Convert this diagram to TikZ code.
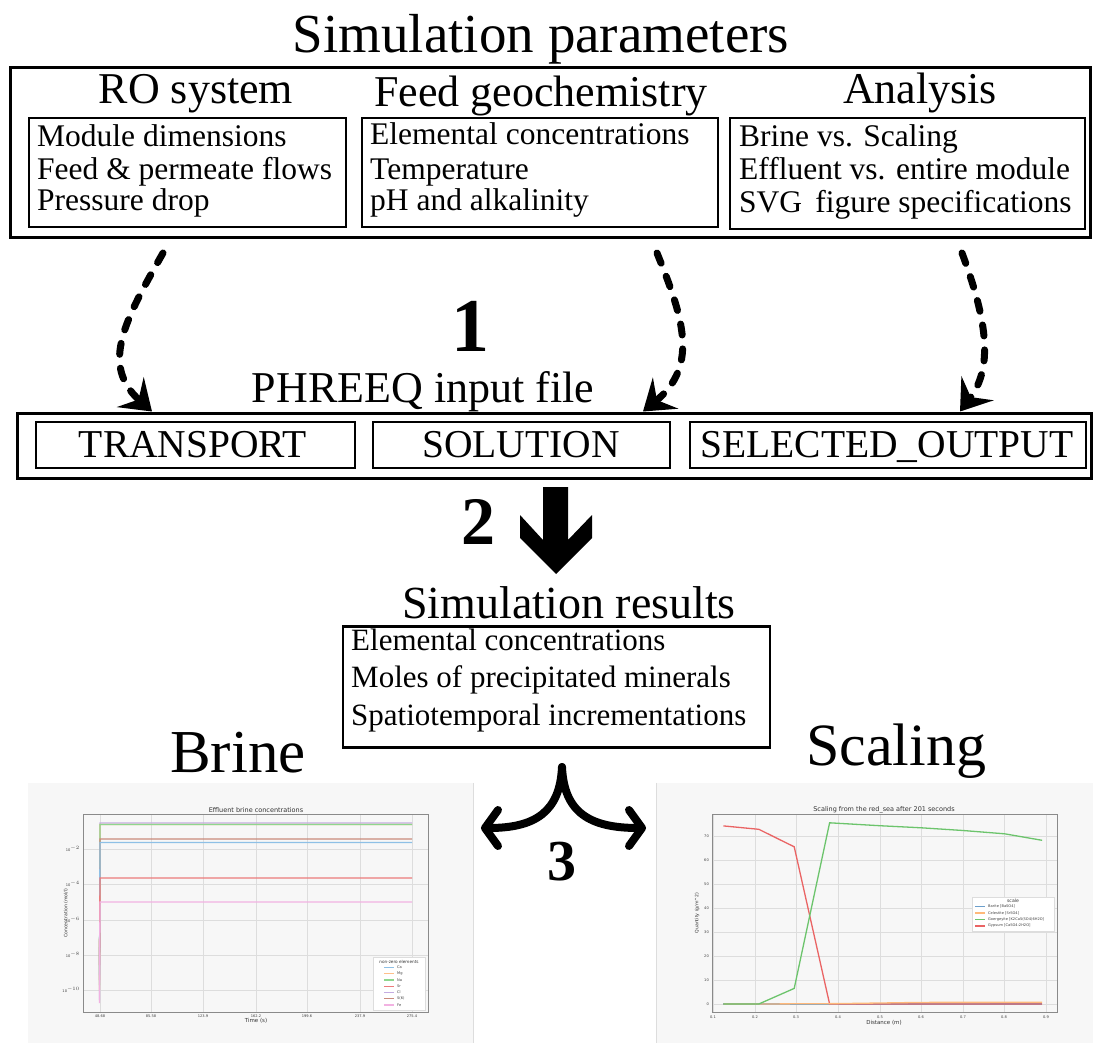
\documentclass[tikz,border=0pt]{standalone}
\usepackage{fontspec}
\setmainfont{Liberation Serif}
\newfontfamily\plotfont{DejaVu Sans}
\usetikzlibrary{arrows.meta}
\newcommand\fsz[1]{\fontsize{#1}{#1}\selectfont}
\definecolor{pbg}{HTML}{F7F7F7}
\definecolor{gridc}{HTML}{DDDDDD}
\definecolor{frc}{HTML}{8A8A8A}
\definecolor{caL}{HTML}{8EC0E6}
\definecolor{mgL}{HTML}{FFC08A}
\definecolor{naL}{HTML}{8ED68E}
\definecolor{srL}{HTML}{EC7B7B}
\definecolor{clL}{HTML}{C4ACE2}
\definecolor{sL}{HTML}{C98A7C}
\definecolor{feL}{HTML}{F2B2E2}
\definecolor{brR}{HTML}{6C9FCC}
\definecolor{ceR}{HTML}{FFB97A}
\definecolor{goR}{HTML}{6CC46C}
\definecolor{gyR}{HTML}{EA6464}
\begin{document}
\begin{tikzpicture}[x=1pt,y=-1pt,
  txt/.style={inner sep=0pt,anchor=base},
  ltxt/.style={inner sep=0pt,anchor=base west},
  box/.style={draw,rectangle,inner sep=0pt,line width=2pt},
  outerbox/.style={draw,rectangle,inner sep=0pt,line width=3pt},
  dasharrow/.style={line width=7pt,line cap=round,dash pattern=on 11pt off 14pt,
    -{Stealth[length=29pt,width=40pt,inset=11pt]}},
  curl/.style={line width=8pt,line cap=round,
    -{Straight Barb[length=13pt,width=36pt,round]}},
  pbgstyle/.style={fill=pbg,inner sep=0pt,draw=none},
  grid/.style={gridc,line width=0.8pt},
  frame/.style={draw=frc,line width=0.7pt,inner sep=0pt},
  tick/.style={inner sep=0pt,font=\plotfont\fsz{3.6},text=black!75},
  plotline/.style={line width=1.3pt},
  leg/.style={draw=gridc,fill=white,inner sep=0pt,line width=0.5pt},
  legtxt/.style={inner sep=0pt,anchor=west,font=\plotfont\fsz{3.6},text=black!75}
]
\useasboundingbox (0,0) rectangle (1093,1043);

% ---------- Simulation parameters ----------
\node[txt,font=\fsz{55}] (title) at (541,53) {Simulation parameters};
\node[outerbox,minimum width=1080pt,minimum height=170pt] (params) at (550,153) {};
\node[txt,font=\fsz{44}] (roh) at (196,104) {RO system};
\node[txt,font=\fsz{44}] (feh) at (541,107) {Feed geochemistry};
\node[txt,font=\fsz{44}] (anh) at (920,104) {Analysis};

\node[box,minimum width=317pt,minimum height=109pt] (ro) at (187,173) {};
\node[box,minimum width=356pt,minimum height=109pt] (fe) at (540,173) {};
\node[box,minimum width=355pt,minimum height=111pt] (an) at (907.5,174) {};

\node[ltxt,font=\fsz{31.5}] (ro1) at (37,147) {Module dimensions};
\node[ltxt,font=\fsz{31.5}] (ro2) at (37,180) {Feed \& permeate flows};
\node[ltxt,font=\fsz{31.5}] (ro3) at (37,211) {Pressure drop};
\node[ltxt,font=\fsz{31.5}] (fe1) at (370,145) {Elemental concentrations};
\node[ltxt,font=\fsz{31.5}] (fe2) at (370,180) {Temperature};
\node[ltxt,font=\fsz{31.5}] (fe3) at (370,211) {pH and alkalinity};
\node[ltxt,font=\fsz{31.5}] (an1) at (739,147) {Brine vs. Scaling};
\node[ltxt,font=\fsz{31.5}] (an2) at (739,180) {Effluent vs. entire module};
\node[ltxt,font=\fsz{31.5}] (an3) at (739,213) {SVG\, figure specifications};

% ---------- step 1 ----------
\node[txt,font=\bfseries\fsz{76}] (one) at (470,351) {1};
\node[txt,font=\fsz{44}] (phl) at (423,402) {PHREEQ input file};

\node[outerbox,minimum width=1074pt,minimum height=65pt] (input) at (554,445.5) {};
\node[box,minimum width=319pt,minimum height=46pt] (tr) at (195.5,445) {};
\node[box,minimum width=297pt,minimum height=46pt] (so) at (521.5,445) {};
\node[box,minimum width=396pt,minimum height=46pt] (se) at (888,445) {};
\node[txt,font=\fsz{39.5}] (trt) at (193,457) {TRANSPORT};
\node[txt,font=\fsz{39.5}] (sot) at (521,457) {SOLUTION};
\node[txt,font=\fsz{39.5}] (set) at (887,457) {SELECTED\_OUTPUT};

\coordinate (s1) at (163,253);
\coordinate (s2) at (657,253);
\coordinate (s3) at (962,253);
\coordinate (e1) at (input.north -| 152,0);
\coordinate (e2) at (input.north -| 643,0);
\coordinate (e3) at (input.north -| 960,0);
\draw[dasharrow] (s1) .. controls (125,320) and (100,365) .. (e1);
\draw[dasharrow] (s2) .. controls (682,315) and (700,365) .. (e2);
\draw[dasharrow] (s3) .. controls (985,315) and (995,365) .. (e3);

% ---------- step 2 ----------
\node[txt,font=\bfseries\fsz{68}] (two) at (478,544) {2};
\fill (543,487) -- (568,487) -- (568,540) -- (592,515) -- (592,538) -- (556,574)
  -- (520,538) -- (520,515) -- (543,540) -- cycle;
\coordinate (arr2) at (556,574);

\node[txt,font=\fsz{46}] (resh) at (569,618) {Simulation results};
\node[box,line width=2.5pt,minimum width=427pt,minimum height=121pt] (res) at (556.5,687) {};
\node[ltxt,font=\fsz{31}] (r1) at (351,650) {Elemental concentrations};
\node[ltxt,font=\fsz{31}] (r2) at (351,687) {Moles of precipitated minerals};
\node[ltxt,font=\fsz{31}] (r3) at (351,725) {Spatiotemporal incrementations};

% ---------- step 3 ----------
\node[txt,font=\fsz{61}] (brine) at (238,772) {Brine};
\node[txt,font=\fsz{60}] (scal) at (896,765) {Scaling};

% ---------- left plot ----------
\node[pbgstyle,minimum width=445pt,minimum height=260pt] (pb) at (250.5,913) {};
\draw[gridc,line width=0.6pt] (pb.north east) -- (pb.south east);
\foreach \gx in {100,151,203,256,307,360,412} \draw[grid] (\gx,814) -- (\gx,1012);
\foreach \gy in {849,884,920,955,990} \draw[grid] (83,\gy) -- (428,\gy);
\node[frame,minimum width=345pt,minimum height=198pt] (axL) at (255.5,913) {};
\node[inner sep=0pt,font=\plotfont\fsz{6.5},text=black!80] (tL) at (256,810) {Effluent brine concentrations};
\node[inner sep=0pt,font=\plotfont\fsz{5.5},text=black!80] (xL) at (256,1021) {Time (s)};
\node[inner sep=0pt,font=\plotfont\fsz{4.6},text=black!80,rotate=90] (yL) at (66,913) {Concentration (mol/l)};
\foreach \gx/\lab in {100/48.68,151/85.58,203/123.9,256/162.2,307/199.6,360/237.9,412/275.4}
  \node[tick] at (\gx,1016) {\lab};
\foreach \gy/\lab in {849/2,884/4,920/6,955/8,990/10}
  \node[tick,anchor=east] at (80,\gy) {10$^{-\lab}$};
% data lines
\draw[plotline,clL] (99.5,1000) -- (100,823) -- (412,823);
\draw[plotline,mgL] (99.5,990) -- (100,824.5) -- (412,824.5);
\draw[plotline,naL] (99.5,985) -- (100,824.5) -- (412,824.5);
\draw[plotline,sL] (99.5,980) -- (100,839) -- (412,839);
\draw[plotline,caL] (99.5,975) -- (100,842.5) -- (412,842.5);
\draw[plotline,srL] (99.5,965) -- (100,878) -- (412,878);
\draw[plotline,feL] (99.5,1003) -- (100,902) -- (412,902);
% legend
\node[leg,minimum width=52pt,minimum height=53pt] (legL) at (399,983.5) {};
\node[inner sep=0pt,font=\plotfont\fsz{4.2},text=black!80] (legLt) at (399,961.5) {non-zero elements};
\foreach \c/\lab/\yy in {caL/Ca/967.5,mgL/Mg/973.8,naL/Na/980,srL/Sr/986.3,clL/Cl/992.5,sL/S(6)/998.8,feL/Fe/1005}{
  \draw[\c,line width=1.2pt] (384,\yy) -- (394,\yy);
  \node[legtxt] at (397,\yy) {\lab};
}

% ---------- right plot ----------
\node[pbgstyle,minimum width=437pt,minimum height=260pt] (ps) at (874.5,913) {};
\draw[gridc,line width=0.6pt] (ps.north west) -- (ps.south west);
\foreach \gx in {713,755,796,838,880,921,963,1004,1046} \draw[grid] (\gx,814) -- (\gx,1012);
\foreach \gy in {1004,980,956,932,908,884,860,836} \draw[grid] (712,\gy) -- (1057,\gy);
\node[frame,minimum width=345pt,minimum height=198pt] (axR) at (884.5,913) {};
\node[inner sep=0pt,font=\plotfont\fsz{6.5},text=black!80] (tR) at (884,810) {Scaling from the red\_sea after 201 seconds};
\node[inner sep=0pt,font=\plotfont\fsz{5.5},text=black!80] (xR) at (884,1023) {Distance (m)};
\node[inner sep=0pt,font=\plotfont\fsz{4.6},text=black!80,rotate=90] (yR) at (697,913) {Quantity (g/m\textasciicircum 2)};
\foreach \gx/\lab in {713/0.1,755/0.2,796/0.3,838/0.4,880/0.5,921/0.6,963/0.7,1004/0.8,1046/0.9}
  \node[tick] at (\gx,1017) {\lab};
\foreach \gy/\lab in {1004/0,980/10,956/20,932/30,908/40,884/50,860/60,836/70}
  \node[tick,anchor=east] at (709,\gy) {\lab};
\draw[plotline,brR] (723.4,1004) -- (1042.1,1004);
\draw[plotline,gyR] (723.4,825.9) -- (758.8,829.3) -- (794.2,846.8) -- (829.6,1004) -- (1042.1,1004);
\draw[plotline,ceR] (723.4,1004) -- (758.8,1004) -- (838,1003.6) -- (921.3,1002.4) -- (1042.1,1002.3);
\draw[plotline,goR] (723.4,1004) -- (758.8,1004) -- (794.2,988.4) -- (829.6,822.8) -- (879.6,825.7)
  -- (921.3,827.8) -- (963,830.5) -- (1004.6,833.8) -- (1042.1,840.3);
\node[leg,minimum width=82pt,minimum height=34pt] (legR) at (1013,914) {};
\node[inner sep=0pt,font=\plotfont\fsz{4.6},text=black!80] (legRt) at (1013,900.5) {scale};
\foreach \c/\lab/\yy in {brR/{Barite [BaSO4]}/906.5,ceR/{Celestite [SrSO4]}/913,goR/{Goergeyite [K2Ca5(SO4)6H2O]}/919.5,gyR/{Gypsum [CaSO4:2H2O]}/926}{
  \draw[\c,line width=1.2pt] (975,\yy) -- (985,\yy);
  \node[legtxt] at (988,\yy) {\lab};
}

% ---------- curly arrow 3 ----------
\coordinate (c3) at (562,767);
\coordinate (l3) at (481,828);
\coordinate (r3) at (646,828);
\draw[curl] (c3) .. controls (560,812) and (535,828) .. (l3);
\draw[curl] (c3) .. controls (564,812) and (589,828) .. (r3);
\node[txt,font=\bfseries\fsz{58}] (three) at (562,880) {3};
\end{tikzpicture}
\end{document}
